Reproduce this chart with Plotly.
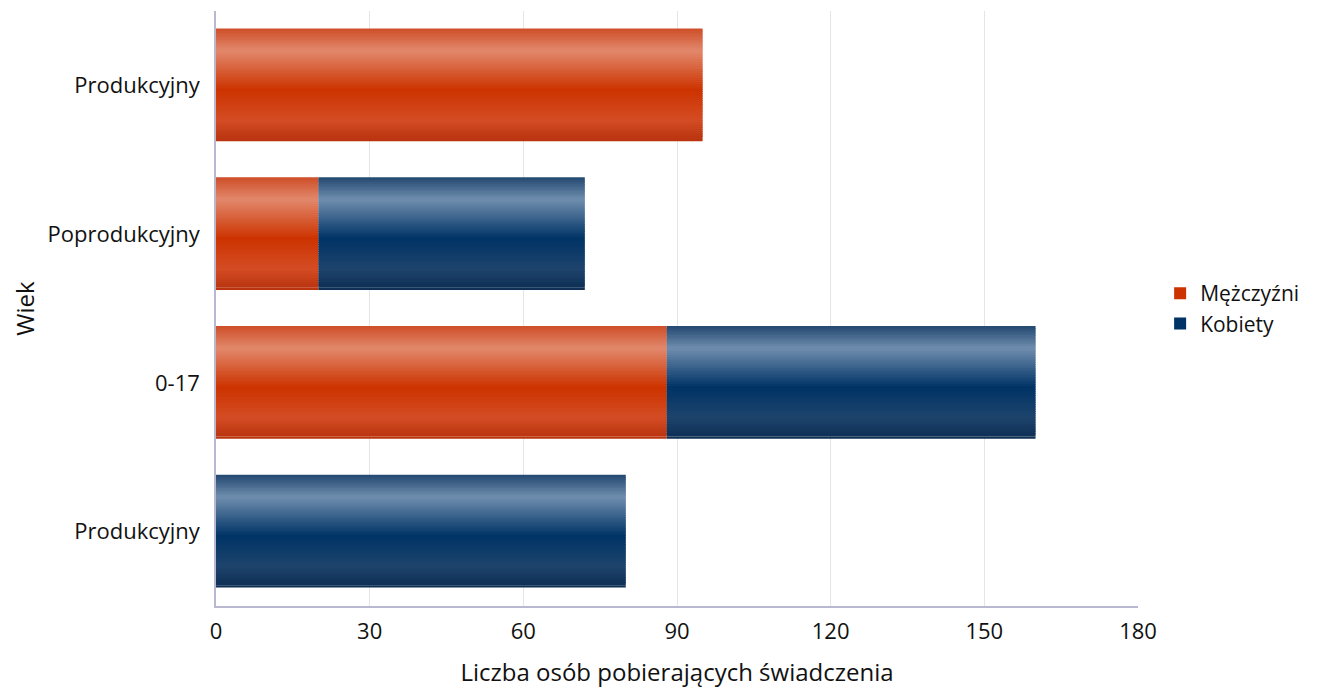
import plotly.graph_objects as go

# ---- data ----
categories = ["Produkcyjny", "0-17", "Poprodukcyjny", "Produkcyjny"]  # bottom -> top
men = [0, 88, 20, 95]
women = [80, 72, 52, 0]
series_names = ["Mężczyźni", "Kobiety"]
x_ticks = [0, 30, 60, 90, 120, 150, 180]

positions = list(range(len(categories)))

# gradient stops (t from top edge of bar to bottom edge)
orange_stops = [(0.0, (206, 78, 40)), (0.2, (226, 136, 108)), (0.55, (204, 51, 0)),
                (0.82, (212, 76, 36)), (1.0, (184, 52, 14))]
blue_stops = [(0.0, (34, 72, 112)), (0.2, (112, 142, 174)), (0.55, (0, 51, 102)),
              (0.82, (30, 68, 108)), (1.0, (14, 46, 84))]


def interp(stops, t):
    for (t0, c0), (t1, c1) in zip(stops[:-1], stops[1:]):
        if t0 <= t <= t1:
            f = (t - t0) / (t1 - t0) if t1 > t0 else 0
            c = [round(a + (b - a) * f) for a, b in zip(c0, c1)]
            return "rgb(%d,%d,%d)" % tuple(c)
    return "rgb(%d,%d,%d)" % stops[-1][1]


BW = 0.75
N = 50
fig = go.Figure()

for name, vals, base, stops, mid in [
    (series_names[0], men, None, orange_stops, "rgb(204,51,0)"),
    (series_names[1], women, men, blue_stops, "rgb(0,51,102)"),
]:
    for i in range(N):
        t = (i + 0.5) / N
        off = BW / 2 - (i + 1) * BW / N
        fig.add_trace(go.Bar(
            y=positions, x=vals, base=base, orientation="h",
            offset=off, width=BW / N * 1.5 if i < N - 1 else BW / N,
            marker=dict(color=interp(stops, t), line=dict(width=0)),
            name=name, legendgroup=name, showlegend=False, hoverinfo="skip",
        ))
    # legend entry
    fig.add_trace(go.Bar(
        y=[None], x=[None], orientation="h", name=name, legendgroup=name,
        marker=dict(color=mid, line=dict(width=0)), showlegend=True,
    ))

fig.update_layout(
    barmode="overlay",
    width=1319, height=690,
    margin=dict(l=208, r=189, t=3, b=92),
    paper_bgcolor="white", plot_bgcolor="white",
    font=dict(family="Open Sans, Noto Sans, sans-serif", size=22, color="#111"),
    legend=dict(x=1.024, y=0.5, xanchor="left", yanchor="middle",
                font=dict(size=21), tracegroupgap=0,
                traceorder="normal"),
    xaxis=dict(range=[0, 180], tickvals=x_ticks, ticktext=[str(v) for v in x_ticks],
               showgrid=True, gridcolor="#E4E4EC", gridwidth=1,
               showline=True, linecolor="#B8B8D0", linewidth=1.5,
               zeroline=False, ticks="outside", ticklen=5, tickcolor="white",
               title=dict(text="Liczba osób pobierających świadczenia", font=dict(size=24), standoff=20),
               tickfont=dict(size=22)),
    yaxis=dict(range=[-0.5, 3.5], tickvals=positions, ticktext=categories,
               showgrid=False, showline=True, linecolor="#B8B8D0", linewidth=1.5,
               zeroline=False, ticks="outside", ticklen=10, tickcolor="white",
               title=dict(text="Wiek", font=dict(size=24), standoff=14),
               tickfont=dict(size=22)),
)

fig.write_html("out.html")
